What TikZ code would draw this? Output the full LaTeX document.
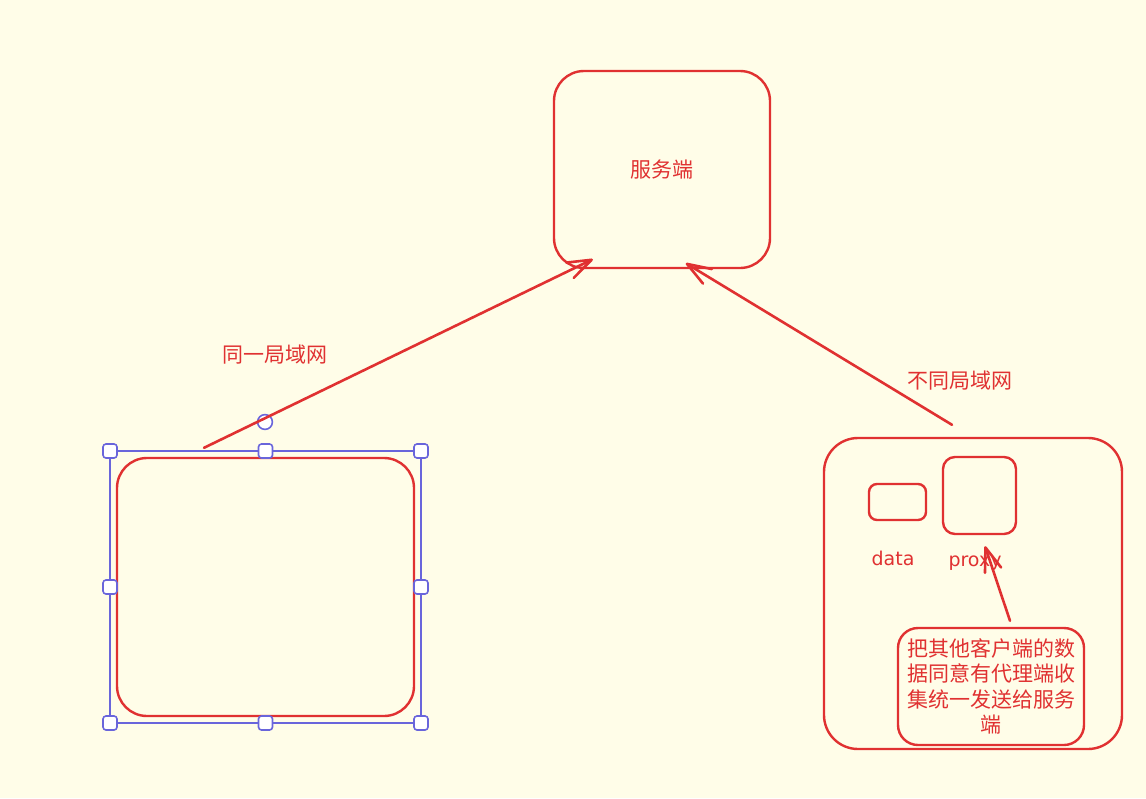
\documentclass[tikz,border=0pt]{standalone}
\usepackage{fontspec}
\setmainfont{DejaVu Sans}
\newfontfamily\cjk{Noto Sans CJK SC}
\usetikzlibrary{arrows.meta, positioning, calc}
\definecolor{paper}{HTML}{FFFDE8}
\definecolor{inkred}{HTML}{E03131}
\definecolor{selblue}{HTML}{6965DB}

\tikzset{
  box/.style={draw=inkred, line width=1.2pt, rounded corners=15pt, inner sep=0pt},
  link/.style={draw=inkred, line width=1.3pt, line cap=round, -{Straight Barb[length=12pt,width=8.5pt,round]}},
  tag/.style={text=inkred, font=\cjk\fontsize{10.5}{12.8}\selectfont},
  hand/.style={text=inkred, font=\fontsize{9.5}{10}\selectfont},
  handle/.style={draw=selblue, fill=white, line width=0.8pt, rounded corners=1.5pt, minimum size=7pt, inner sep=0pt},
}

\begin{document}
\begin{tikzpicture}[x=0.5pt, y=-0.5pt]
  % Paper
  \fill[paper] (0,0) rectangle (1146,798);
  \useasboundingbox (0,0) rectangle (1146,798);

  % Server
  \node[box, tag, minimum width=108pt, minimum height=98.5pt] (server) at (662,169.5) {服务端};

  % Client on the same LAN, with its selection frame
  \node[box, minimum width=148.5pt, minimum height=129pt] (lan) at (265.5,587) {};
  \draw[selblue, line width=0.8pt] (110,451) rectangle (421,723);
  \foreach \hx/\hy in {110/451, 265.5/451, 421/451, 110/587, 421/587, 110/723, 265.5/723, 421/723}
    \node[handle] at (\hx,\hy) {};
  \draw[selblue, fill=white, line width=0.8pt] (265,422) circle[radius=3.7pt];

  % Client on another LAN
  \node[box, rounded corners=17pt, minimum width=149pt, minimum height=155.5pt] (wan) at (973,593.5) {};
  \node[box, rounded corners=4pt, minimum width=28.5pt, minimum height=18pt] (data) at (897.5,502) {};
  \node[box, rounded corners=6pt, minimum width=36.5pt, minimum height=38.5pt] (proxy) at (979.5,495.5) {};
  \node[hand] (datalbl) at (893,558) {data};
  \node[hand] (proxylbl) at (975,563) {proxy};
  \node[box, tag, rounded corners=10pt, minimum width=93pt, minimum height=58.5pt, align=center] (note) at (991,686.5)
    {把其他客户端的数\\据同意有代理端收\\集统一发送给服务\\端};

  % Connector ends
  \coordinate (lanout) at ($(lan.north)+(-61.5,-9)$);
  \coordinate (srvin1) at ($(server.south west)+(40,-10)$);
  \coordinate (wanout) at ($(wan.north)+(-21,-12)$);
  \coordinate (srvin2) at ($(server.south west)+(133,-6)$);
  \coordinate (noteout) at ($(note.north)+(19,-6)$);
  \coordinate (proxyin) at ($(proxy.south)+(5.5,11)$);

  % Connectors
  \draw[link] (lanout) -- (srvin1);
  \draw[link] (wanout) -- (srvin2);
  \draw[link] (noteout) -- (proxyin);

  % Connector labels
  \node[tag] (samelan) at (275,355) {同一局域网};
  \node[tag] (otherlan) at (960,381) {不同局域网};
\end{tikzpicture}
\end{document}
